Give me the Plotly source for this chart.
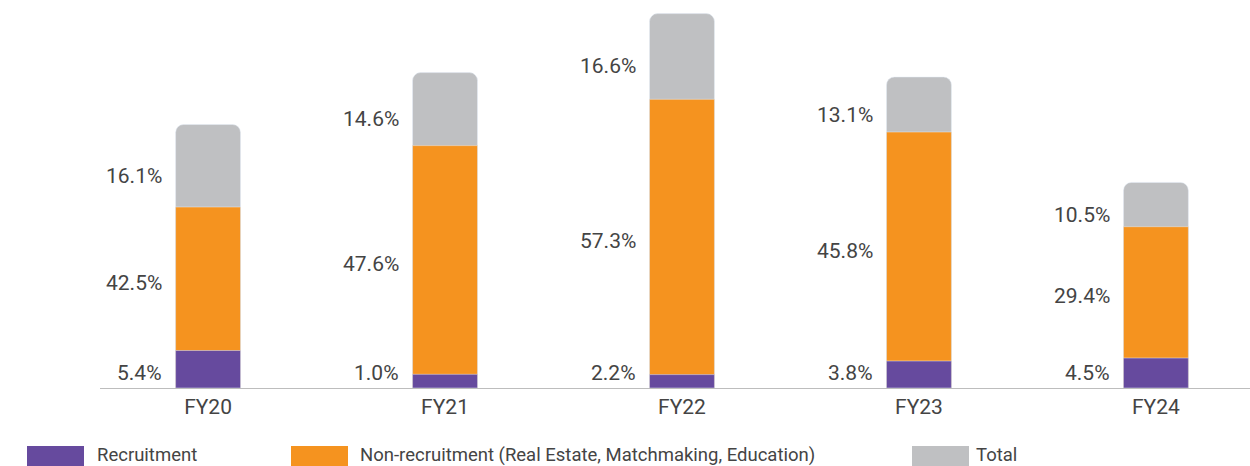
import plotly.graph_objects as go

# ---- data (bar heights in chart units, labels as shown) ----
years = ["FY20", "FY21", "FY22", "FY23", "FY24"]
recruitment = [37.5, 13.7, 13.4, 27.0, 30.0]
non_recruitment = [181.0, 242.4, 288.7, 256.0, 161.3]
total = [263.5, 315.4, 374.4, 311.0, 205.6]
recruitment_labels = ["5.4%", "1.0%", "2.2%", "3.8%", "4.5%"]
non_recruitment_labels = ["42.5%", "47.6%", "57.3%", "45.8%", "29.4%"]
total_labels = ["16.1%", "14.6%", "16.6%", "13.1%", "10.5%"]
series_names = ["Recruitment", "Non-recruitment (Real Estate, Matchmaking, Education)", "Total"]

PURPLE = "#664A9E"
ORANGE = "#F5931F"
GREY = "#BFC0C2"
TEXT = "#444444"
FONT = "Roboto"

W, H = 1250, 466
ML, MR, MT, MB = 100, 0, 0, 78
PW = W - ML - MR
PH = H - MT - MB
BAR_W = 0.274

fig = go.Figure()
x_idx = list(range(len(years)))
fig.add_trace(go.Bar(x=x_idx, y=total, name=series_names[2], marker=dict(color=GREY, cornerradius=8),
                     width=BAR_W, showlegend=False, hoverinfo="skip"))
fig.add_trace(go.Bar(x=x_idx, y=non_recruitment, name=series_names[1], marker=dict(color=ORANGE, cornerradius=8),
                     width=BAR_W, showlegend=False, hoverinfo="skip"))
fig.add_trace(go.Bar(x=x_idx, y=recruitment, name=series_names[0], marker=dict(color=PURPLE, cornerradius=4),
                     width=BAR_W, showlegend=False, hoverinfo="skip"))

gap = 0.05
LBL = 21
for i in x_idx:
    xl = i - BAR_W / 2 - gap
    fig.add_annotation(x=xl, y=0, yshift=15, text=recruitment_labels[i], xanchor="right", yanchor="middle",
                       showarrow=False, font=dict(family=FONT, size=LBL, color=TEXT))
    fig.add_annotation(x=xl, y=(recruitment[i] + non_recruitment[i]) / 2, yshift=-4, text=non_recruitment_labels[i],
                       xanchor="right", yanchor="middle", showarrow=False, font=dict(family=FONT, size=LBL, color=TEXT))
    fig.add_annotation(x=xl, y=(non_recruitment[i] + total[i]) / 2, yshift=-10, text=total_labels[i],
                       xanchor="right", yanchor="middle", showarrow=False, font=dict(family=FONT, size=LBL, color=TEXT))

# manual legend (pixel positions converted to paper coords)
def px_x(p):
    return (p - ML) / PW

def px_y(p):
    return (MT + PH - p) / PH

legend_items = [(series_names[0], PURPLE, 27, 84, 96), (series_names[1], ORANGE, 291, 348, 359), (series_names[2], GREY, 912, 969, 975)]
for name, col, x0, x1, tx in legend_items:
    fig.add_shape(type="rect", xref="paper", yref="paper", x0=px_x(x0), x1=px_x(x1), y0=px_y(446), y1=px_y(480),
                  fillcolor=col, line=dict(width=0), layer="above")
    fig.add_annotation(xref="paper", yref="paper", x=px_x(tx), y=px_y(455), text=name, xanchor="left",
                       yanchor="middle", showarrow=False, borderpad=0,
                       font=dict(family=FONT, size=18.5, color=TEXT))

fig.update_layout(
    width=W, height=H, margin=dict(l=ML, r=MR, t=MT, b=MB),
    barmode="overlay", plot_bgcolor="white", paper_bgcolor="white",
    font=dict(family=FONT, color=TEXT),
    xaxis=dict(range=[-0.456, 4.397], tickmode="array", tickvals=x_idx, ticktext=years,
               showline=True, linecolor="#BDBDBD", linewidth=1, showgrid=False, zeroline=False,
               ticks="", tickfont=dict(family=FONT, size=LBL, color=TEXT), fixedrange=True),
    yaxis=dict(range=[0, PH], visible=False, showgrid=False, zeroline=False, fixedrange=True),
)

fig.write_html("out.html", config={"displayModeBar": False},
               post_script="document.body.style.margin='0';document.body.style.overflow='hidden';")
